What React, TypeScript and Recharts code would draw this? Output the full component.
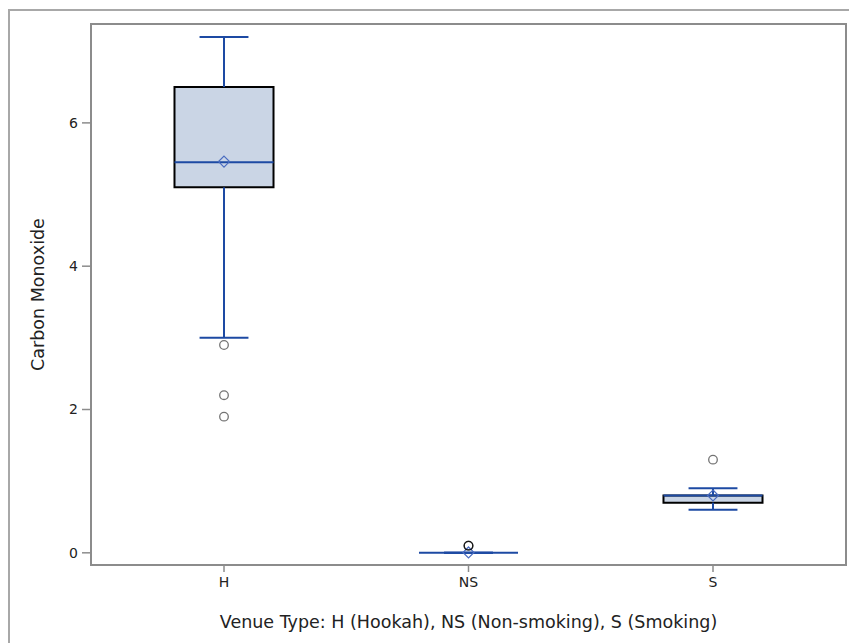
import React from 'react';
import {
  ComposedChart,
  XAxis,
  YAxis,
  Scatter,
  ReferenceArea,
  ReferenceLine,
} from 'recharts';

const categories = ['H', 'NS', 'S'];
const q1Values = [5.1, 0, 0.7];
const medianValues = [5.45, 0, 0.8];
const q3Values = [6.5, 0, 0.8];
const whiskerLow = [3.0, 0, 0.6];
const whiskerHigh = [7.2, 0, 0.9];
const meanValues = [5.46, 0.005, 0.8];
const outlierValues = [[2.9, 2.2, 1.9], [0.1, 0.1, 0.1], [1.3]];
const yTicks = [0, 2, 4, 6];

const X_DOMAIN: [number, number] = [-0.544, 2.544];
const Y_DOMAIN: [number, number] = [-0.17, 7.38];
const BOX_HALF = 0.2025;
const CAP_HALF = 0.1;

const BLUE = '#1d4aa3';
const FILL = '#cad5e5';
const AXIS = '#8c8c8c';
const FONT = '"DejaVu Sans", Verdana, sans-serif';

const meanData = meanValues.map((v, i) => ({ x: i, y: v }));
const outlierData = outlierValues.flatMap((arr, i) => arr.map((v) => ({ x: i, y: v })));

const Diamond = (props: any) => {
  const { cx, cy } = props;
  const s = 5.5;
  return (
    <path
      d={`M${cx},${cy - s} L${cx + s},${cy} L${cx},${cy + s} L${cx - s},${cy} Z`}
      fill="none"
      stroke="#4a6cc0"
      strokeWidth={1.2}
    />
  );
};

const Circle = (props: any) => {
  const { cx, cy } = props;
  return <circle cx={cx} cy={cy} r={4.3} fill="none" stroke="rgba(0,0,0,0.55)" strokeWidth={1.3} />;
};

export default function App() {
  return (
    <div
      style={{
        position: 'absolute',
        left: 0,
        top: 0,
        width: 849,
        height: 643,
        overflow: 'hidden',
        background: '#fff',
        fontFamily: FONT,
      }}
    >
      <div
        style={{
          position: 'absolute',
          left: 8,
          top: 9,
          width: 1000,
          height: 1000,
          borderTop: '2px solid #a8a8a8',
          borderLeft: '2px solid #a8a8a8',
        }}
      />
      <div style={{ position: 'absolute', left: 0, top: 0 }}>
        <ComposedChart
          width={849}
          height={643}
          margin={{ top: 24, right: 3, bottom: 8, left: 21 }}
        >
          <XAxis
            type="number"
            dataKey="x"
            domain={X_DOMAIN}
            ticks={[0, 1, 2]}
            allowDataOverflow
            tickFormatter={(i: number) => categories[i] ?? ''}
            height={70}
            tickSize={7}
            tickMargin={5}
            stroke={AXIS}
            strokeWidth={1.5}
            tick={{ fill: '#222', fontSize: 14, fontFamily: FONT }}
            label={{
              value: 'Venue Type: H (Hookah), NS (Non-smoking), S (Smoking)',
              position: 'insideBottom',
              offset: 7,
              style: { fill: '#222', fontSize: 17.5, fontFamily: FONT },
            }}
          />
          <YAxis
            type="number"
            domain={Y_DOMAIN}
            ticks={yTicks}
            allowDataOverflow
            width={70}
            tickSize={9}
            tickMargin={4}
            stroke={AXIS}
            strokeWidth={1.5}
            tick={{ fill: '#222', fontSize: 14, fontFamily: FONT }}
            label={{
              value: 'Carbon Monoxide',
              angle: -90,
              position: 'insideLeft',
              offset: 17,
              style: { fill: '#222', fontSize: 17.5, fontFamily: FONT, textAnchor: 'middle' },
            }}
          />
          <ReferenceArea
            x1={X_DOMAIN[0]}
            x2={X_DOMAIN[1]}
            y1={Y_DOMAIN[0]}
            y2={Y_DOMAIN[1]}
            fill="none"
            stroke={AXIS}
            strokeWidth={2}
            ifOverflow="visible"
          />
          {categories.map((c, i) => (
            <ReferenceArea
              key={`box-${c}`}
              x1={i - BOX_HALF}
              x2={i + BOX_HALF}
              y1={q1Values[i]}
              y2={q3Values[i]}
              fill={FILL}
              fillOpacity={1}
              stroke="#000"
              strokeWidth={2}
              ifOverflow="visible"
            />
          ))}
          {categories.map((c, i) => (
            <ReferenceLine
              key={`wu-${c}`}
              segment={[{ x: i, y: q3Values[i] }, { x: i, y: whiskerHigh[i] }]}
              stroke={BLUE}
              strokeWidth={2}
              ifOverflow="visible"
            />
          ))}
          {categories.map((c, i) => (
            <ReferenceLine
              key={`wl-${c}`}
              segment={[{ x: i, y: q1Values[i] }, { x: i, y: whiskerLow[i] }]}
              stroke={BLUE}
              strokeWidth={2}
              ifOverflow="visible"
            />
          ))}
          {categories.map((c, i) => (
            <ReferenceLine
              key={`cu-${c}`}
              segment={[{ x: i - CAP_HALF, y: whiskerHigh[i] }, { x: i + CAP_HALF, y: whiskerHigh[i] }]}
              stroke={BLUE}
              strokeWidth={2}
              ifOverflow="visible"
            />
          ))}
          {categories.map((c, i) => (
            <ReferenceLine
              key={`cl-${c}`}
              segment={[{ x: i - CAP_HALF, y: whiskerLow[i] }, { x: i + CAP_HALF, y: whiskerLow[i] }]}
              stroke={BLUE}
              strokeWidth={2}
              ifOverflow="visible"
            />
          ))}
          {categories.map((c, i) => (
            <ReferenceLine
              key={`med-${c}`}
              segment={[{ x: i - BOX_HALF, y: medianValues[i] }, { x: i + BOX_HALF, y: medianValues[i] }]}
              stroke={BLUE}
              strokeWidth={2}
              ifOverflow="visible"
            />
          ))}
          <Scatter data={meanData} dataKey="y" shape={Diamond} isAnimationActive={false} />
          <Scatter data={outlierData} dataKey="y" shape={Circle} isAnimationActive={false} />
        </ComposedChart>
      </div>
    </div>
  );
}
